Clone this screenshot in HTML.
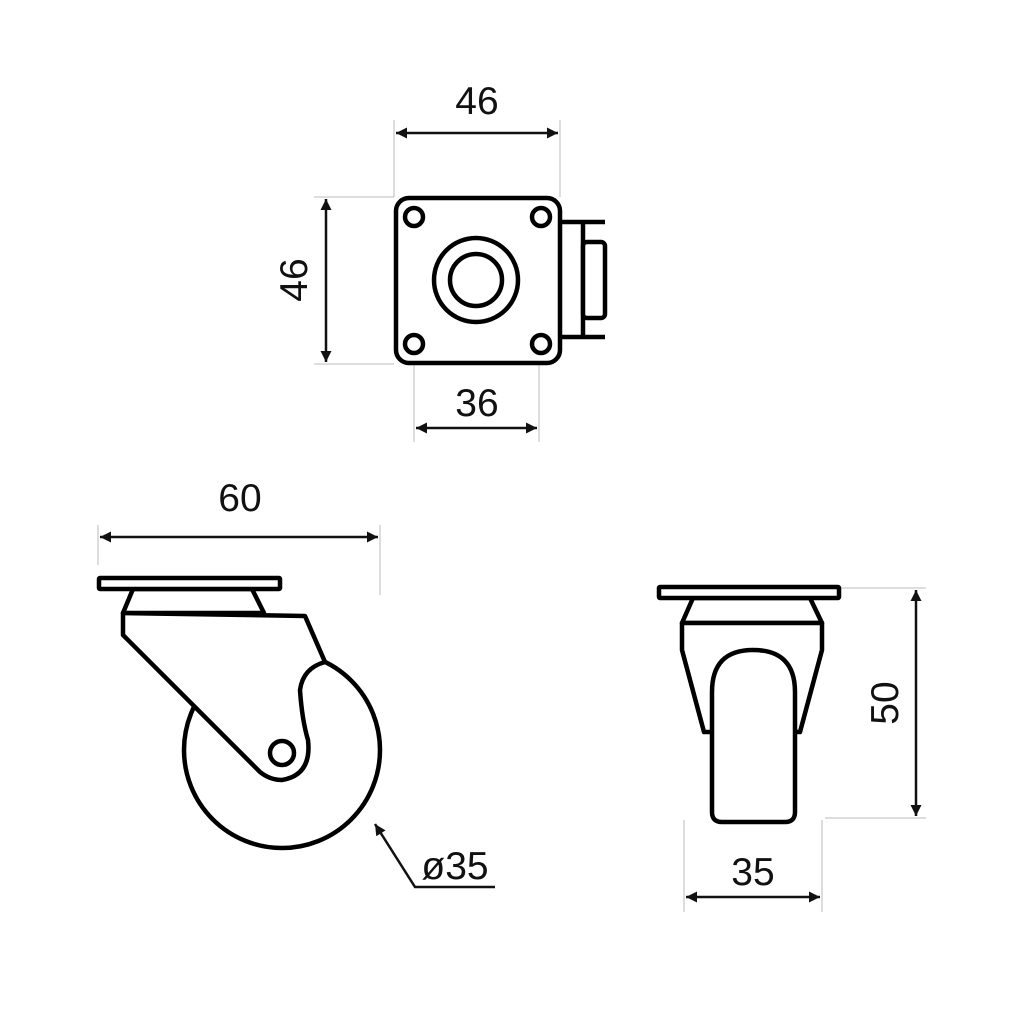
<!DOCTYPE html>
<html><head><style>body{margin:0;background:#fff}svg{display:block}text{font-family:"Liberation Sans",sans-serif;font-size:39px;fill:#111}</style></head><body>
<svg width="1024" height="1024" viewBox="0 0 1024 1024">
<defs><marker id="a" viewBox="0 0 10 10" refX="10" refY="5" markerWidth="20" markerHeight="11" markerUnits="userSpaceOnUse" orient="auto-start-reverse"><path d="M0,0 L10,5 L0,10 z" fill="#111"/></marker></defs>
<g stroke="#bbb" stroke-width="1" fill="none">
<line x1="394" y1="120" x2="394" y2="197"/><line x1="560" y1="120" x2="560" y2="197"/>
<line x1="314" y1="197" x2="394" y2="197"/><line x1="314" y1="364" x2="394" y2="364"/>
<line x1="414" y1="344" x2="414" y2="442"/><line x1="539" y1="344" x2="539" y2="442"/>
<line x1="98" y1="525" x2="98" y2="565"/><line x1="380" y1="525" x2="380" y2="595"/>
<line x1="840" y1="588" x2="926" y2="588"/><line x1="825" y1="818" x2="926" y2="818"/>
<line x1="684" y1="820" x2="684" y2="912"/><line x1="822" y1="820" x2="822" y2="912"/>
</g>
<g stroke="#111" stroke-width="2.5" fill="none">
<line x1="396" y1="133" x2="558" y2="133" marker-start="url(#a)" marker-end="url(#a)"/>
<line x1="326" y1="199" x2="326" y2="362" marker-start="url(#a)" marker-end="url(#a)"/>
<line x1="416" y1="428" x2="537" y2="428" marker-start="url(#a)" marker-end="url(#a)"/>
<line x1="100" y1="537" x2="378" y2="537" marker-start="url(#a)" marker-end="url(#a)"/>
<line x1="916" y1="590" x2="916" y2="816" marker-start="url(#a)" marker-end="url(#a)"/>
<line x1="686" y1="897" x2="820" y2="897" marker-start="url(#a)" marker-end="url(#a)"/>
<polyline points="495,887 415,887 375,824" marker-end="url(#a)"/>
</g>
<g stroke="#000" stroke-width="4.5" fill="#fff" stroke-linejoin="round">
<path d="M560,222 H605 M560,337 H605 M583,222 V337" fill="none"/>
<rect x="583" y="242" width="22" height="76" rx="4"/>
<rect x="396" y="198" width="164" height="165" rx="13"/>
<circle cx="414" cy="217" r="9"/><circle cx="541" cy="217" r="9"/>
<circle cx="414" cy="344" r="9"/><circle cx="541" cy="344" r="9"/>
<circle cx="476" cy="280" r="42"/><circle cx="476" cy="280" r="26"/>
<circle cx="282" cy="750" r="98"/>
<path d="M133,589 L123,613 L264,613 L252,589 Z"/>
<path d="M123,613 L305,616 L325,662 Q303,668 300,690 Q302,720 308,740 Q312,775 282,780 Q270,780 260,772 L123,635 Z"/>
<circle cx="282" cy="753" r="12"/>
<rect x="99" y="578" width="181" height="11" rx="1"/>
<path d="M693,598 L682,623 L822,623 L810,598 Z"/>
<path d="M682,623 L682,650 L704,732 L800,732 L822,650 L822,623 Z"/>
<path d="M712,732 L712,812 Q712,822 722,822 L785,822 Q795,822 795,812 L795,692 Q795,650 753,650 Q712,650 712,692 Z"/>
<rect x="659" y="587" width="180" height="11" rx="1"/>
</g>
<text x="477" y="114" text-anchor="middle">46</text>
<text x="477" y="416" text-anchor="middle">36</text>
<text x="240" y="511" text-anchor="middle">60</text>
<text x="753" y="885" text-anchor="middle">35</text>
<text x="455" y="879" text-anchor="middle">ø35</text>
<text transform="translate(307,280) rotate(-90)" text-anchor="middle">46</text>
<text transform="translate(898,703) rotate(-90)" text-anchor="middle">50</text>
</svg>
</body></html>
